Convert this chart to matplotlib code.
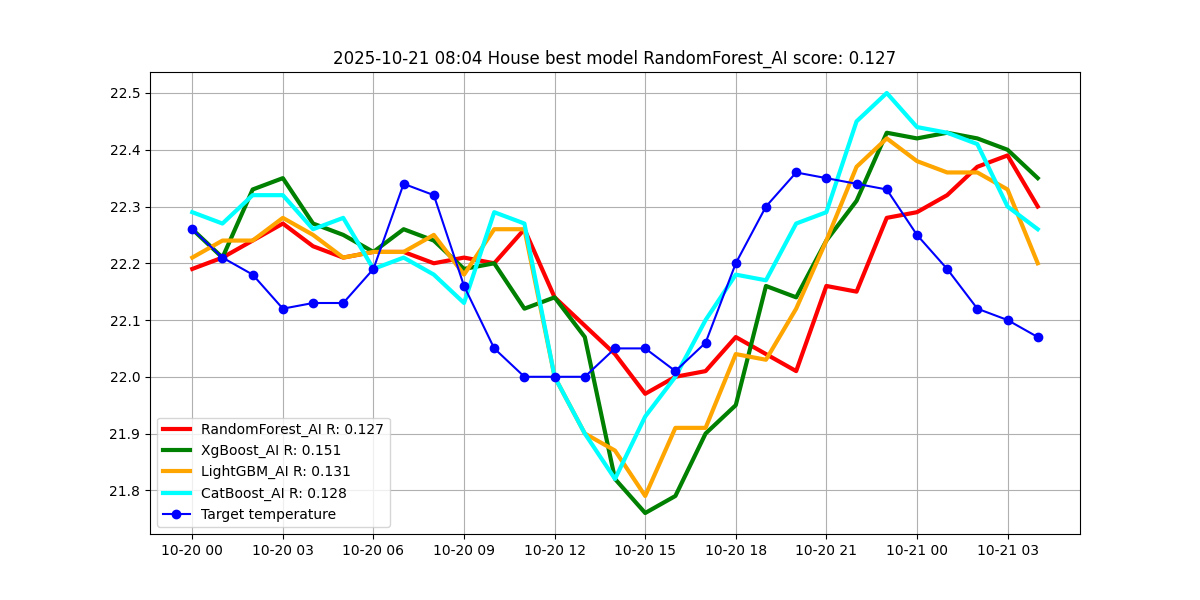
import matplotlib
matplotlib.use('Agg')
import matplotlib.pyplot as plt
import matplotlib.dates as mdate
import pandas as pd

times = pd.date_range('2025-10-20 00:00', periods=29, freq='h')

rf = [22.19, 22.21, 22.24, 22.27, 22.23, 22.21, 22.22, 22.22, 22.20, 22.21,
      22.20, 22.26, 22.14, 22.09, 22.04, 21.97, 22.00, 22.01, 22.07, 22.04,
      22.01, 22.16, 22.15, 22.28, 22.29, 22.32, 22.37, 22.39, 22.30]
xgb = [22.26, 22.21, 22.33, 22.35, 22.27, 22.25, 22.22, 22.26, 22.24, 22.19,
       22.20, 22.12, 22.14, 22.07, 21.82, 21.76, 21.79, 21.90, 21.95, 22.16,
       22.14, 22.24, 22.31, 22.43, 22.42, 22.43, 22.42, 22.40, 22.35]
lgbm = [22.21, 22.24, 22.24, 22.28, 22.25, 22.21, 22.22, 22.22, 22.25, 22.18,
        22.26, 22.26, 22.00, 21.90, 21.87, 21.79, 21.91, 21.91, 22.04, 22.03,
        22.12, 22.24, 22.37, 22.42, 22.38, 22.36, 22.36, 22.33, 22.20]
cat = [22.29, 22.27, 22.32, 22.32, 22.26, 22.28, 22.19, 22.21, 22.18, 22.13,
       22.29, 22.27, 22.00, 21.90, 21.82, 21.93, 22.00, 22.10, 22.18, 22.17,
       22.27, 22.29, 22.45, 22.50, 22.44, 22.43, 22.41, 22.30, 22.26]
target = [22.26, 22.21, 22.18, 22.12, 22.13, 22.13, 22.19, 22.34, 22.32, 22.16,
          22.05, 22.00, 22.00, 22.00, 22.05, 22.05, 22.01, 22.06, 22.20, 22.30,
          22.36, 22.35, 22.34, 22.33, 22.25, 22.19, 22.12, 22.10, 22.07]

models = [('RandomForest_AI', 0.127, rf, 'red'),
          ('XgBoost_AI', 0.151, xgb, 'green'),
          ('LightGBM_AI', 0.131, lgbm, 'orange'),
          ('CatBoost_AI', 0.128, cat, 'cyan')]

fig, ax = plt.subplots(figsize=(12, 6), dpi=100)

for name, score, vals, col in models:
    ax.plot(times, vals, color=col, linewidth=3, label='%s R: %.3f' % (name, score))
ax.plot(times, target, color='blue', marker='o', linewidth=1.5, label='Target temperature')

ax.xaxis.set_major_locator(mdate.HourLocator(interval=3))
ax.xaxis.set_major_formatter(mdate.DateFormatter('%m-%d %H'))
ax.grid(True)
ax.legend(loc='lower left')
ax.set_title('2025-10-21 08:04 House best model RandomForest_AI score: 0.127')

fig.savefig('out.png')
